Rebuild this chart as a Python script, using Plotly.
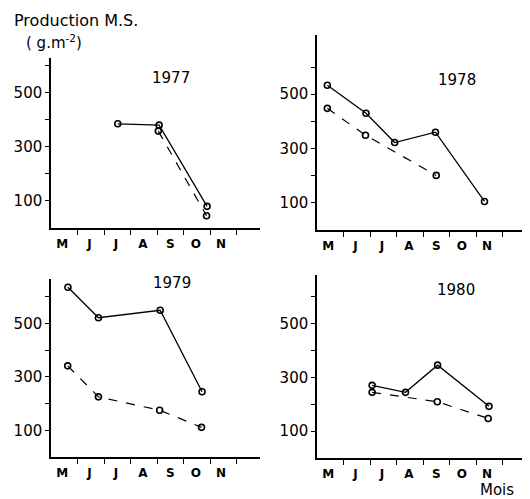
import plotly.graph_objects as go

# The page has an 8px body margin, so the figure is sized to the visible area
OX, OY = 8, 8
W, H = 530 - OX, 499 - OY

month_labels = ["M", "J", "J", "A", "S", "O", "N"]
month_label_pos = [0.42, 1.45, 2.45, 3.47, 4.5, 5.47, 6.42]
month_bounds = [1, 2, 3, 4, 5, 6, 7]
y_tickvals = [100, 200, 300, 400, 500, 600]
y_ticktext = ["100", "", "300", "", "500", ""]

years = ["1977", "1978", "1979", "1980"]

solid_x = {
    "1977": [2.52, 4.08, 5.89],
    "1978": [0.39, 1.85, 2.93, 4.47, 6.32],
    "1979": [0.64, 1.79, 4.12, 5.70],
    "1980": [2.08, 3.34, 4.55, 6.49],
}
solid_y = {
    "1977": [385, 380, 80],
    "1978": [533, 430, 322, 360, 105],
    "1979": [635, 521, 549, 244],
    "1980": [270, 244, 345, 192],
}
dashed_x = {
    "1977": [4.05, 5.87],
    "1978": [0.39, 1.83, 4.5],
    "1979": [0.63, 1.79, 4.1, 5.68],
    "1980": [2.08, 4.54, 6.46],
}
dashed_y = {
    "1977": [358, 45],
    "1978": [448, 349, 201],
    "1979": [341, 225, 175, 111],
    "1980": [244, 209, 147],
}

# panel geometry in page pixels: (x0, x1, y_bottom, y_top, ymax, title_x, title_y)
panels = {
    "1977": (51, 260, 228, 58, 628, 171, 78),
    "1978": (317, 528, 230, 35, 718, 457, 80),
    "1979": (51, 260, 457, 279, 666, 172, 283),
    "1980": (317, 526, 458, 275, 680, 456, 290),
}


def px(x):
    return (x - OX) / W


def py(y):
    return 1 - (y - OY) / H


FONT = "DejaVu Sans"
fig = go.Figure()
layout = dict(
    width=W, height=H, margin=dict(l=0, r=0, t=0, b=0),
    plot_bgcolor="white", paper_bgcolor="white", showlegend=False,
    font=dict(family=FONT, size=14, color="black"),
)
annotations = []
for i, yr in enumerate(years, start=1):
    x0, x1, yb, yt, ymax, tx, ty = panels[yr]
    xa = "x" if i == 1 else f"x{i}"
    ya = "y" if i == 1 else f"y{i}"
    fig.add_trace(go.Scatter(
        x=solid_x[yr], y=solid_y[yr], mode="lines+markers", xaxis=xa, yaxis=ya,
        line=dict(color="black", width=1.3),
        marker=dict(symbol="circle-open", size=6, color="black", line=dict(width=1.6)),
    ))
    fig.add_trace(go.Scatter(
        x=dashed_x[yr], y=dashed_y[yr], mode="lines+markers", xaxis=xa, yaxis=ya,
        line=dict(color="black", width=1.2, dash="dash"),
        marker=dict(symbol="circle-open", size=6, color="black", line=dict(width=1.6)),
    ))
    kx = "xaxis" if i == 1 else f"xaxis{i}"
    ky = "yaxis" if i == 1 else f"yaxis{i}"
    layout[kx] = dict(
        domain=[px(x0), min(px(x1), 1)], range=[0, (x1 - x0) / 26.5], anchor=ya,
        showline=True, linecolor="black", linewidth=1.5, showgrid=False, zeroline=False,
        tickmode="array", tickvals=month_label_pos, ticktext=month_labels,
        ticks="outside", ticklen=0, tickcolor="black", ticklabelstandoff=4,
        tickfont=dict(family=FONT, size=12, color="black", weight="bold"),
        minor=dict(tickmode="array", tickvals=month_bounds, ticks="outside",
                   ticklen=5, tickwidth=1.3, tickcolor="black", showgrid=False),
        fixedrange=True,
    )
    layout[ky] = dict(
        domain=[max(py(yb), 0), py(yt)], range=[0, ymax], anchor=xa,
        showline=True, linecolor="black", linewidth=1.5, showgrid=False, zeroline=False,
        tickmode="array", tickvals=y_tickvals, ticktext=y_ticktext, ticks="outside",
        ticklen=4, tickwidth=1.2, tickcolor="black",
        tickfont=dict(family=FONT, size=15, color="black"),
        fixedrange=True,
    )
    annotations.append(dict(
        x=px(tx), y=py(ty), xref="paper", yref="paper", text=yr, showarrow=False,
        font=dict(family=FONT, size=15, color="black"), xanchor="center", yanchor="middle",
    ))

annotations.append(dict(x=px(12), y=py(21), xref="paper", yref="paper", text="Production M.S.",
                        showarrow=False, xanchor="left", yanchor="middle",
                        font=dict(family=FONT, size=16, color="black")))
annotations.append(dict(x=px(24), y=py(42), xref="paper", yref="paper", text="( g.m<sup>-2</sup>)",
                        showarrow=False, xanchor="left", yanchor="middle",
                        font=dict(family=FONT, size=15, color="black")))
annotations.append(dict(x=px(497), y=py(490), xref="paper", yref="paper", text="Mois",
                        showarrow=False, xanchor="center", yanchor="middle",
                        font=dict(family=FONT, size=15, color="black")))
layout["annotations"] = annotations
fig.update_layout(**layout)
fig.write_html("out.html")
